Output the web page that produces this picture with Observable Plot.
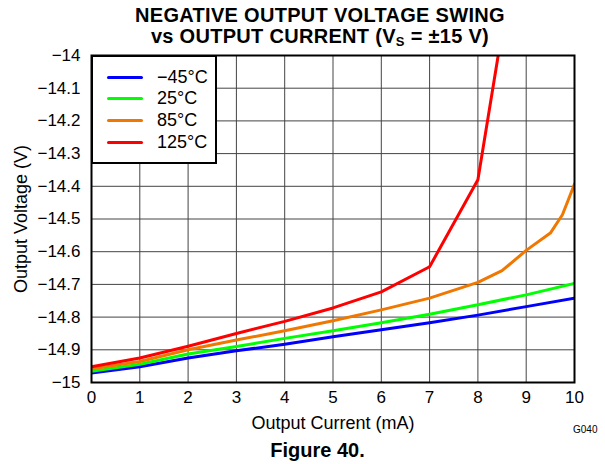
<!DOCTYPE html>
<html>
<head>
<meta charset="utf-8">
<script src="https://cdn.jsdelivr.net/npm/d3@7"></script>
<script src="https://cdn.jsdelivr.net/npm/@observablehq/plot@0.6"></script>
<style>
  html, body { margin: 0; padding: 0; background: #fff; }
  #wrap { position: relative; width: 605px; height: 464px; overflow: hidden; font-family: "Liberation Sans", Arial, sans-serif; color: #000; }
  #title { position: absolute; left: 0; top: 5px; width: 640px; text-align: center; font-weight: bold; font-size: 20px; line-height: 21px; letter-spacing: 0.3px; }
  #title sub { font-size: 13px; vertical-align: -3px; line-height: 0; }
  #chart { position: absolute; left: 0; top: 0; }
  #legend { position: absolute; left: 91px; top: 55px; border: 2px solid #000; background: #fff; box-sizing: border-box; width: 126px; height: 109px; font-size: 18px; }
  .row { position: absolute; left: 0; height: 20px; }
  .row .sw { position: absolute; left: 14px; top: 9px; width: 36px; height: 3px; border-radius: 2px; }
  .row .lb { position: absolute; left: 64px; top: 0; white-space: nowrap; line-height: 20px; }
  #fig { position: absolute; left: 0; width: 635px; top: 439px; line-height: 23px; text-align: center; font-weight: bold; font-size: 20px; }
  #code { position: absolute; left: 573px; top: 424px; font-size: 10px; line-height: 12px; }
</style>
</head>
<body>
<div id="wrap">
  <div id="chart"></div>
  <div id="title">NEGATIVE OUTPUT VOLTAGE SWING<br>vs OUTPUT CURRENT (V<sub>S</sub> = ±15 V)</div>
  <div id="legend"></div>
  <div id="fig">Figure 40.</div>
  <div id="code">G040</div>
</div>
<script>
// ---- data ----
const seriesNames = ["\u221245°C", "25°C", "85°C", "125°C"];
const seriesColors = ["#0000ff", "#00ff00", "#f07800", "#ff0000"];

const currentStd = [0, 1, 2, 3, 4, 5, 6, 7, 8, 9, 10];
const voltMinus45 = [-14.971, -14.952, -14.925, -14.903, -14.883, -14.860, -14.839, -14.817, -14.794, -14.768, -14.742];
const volt25 = [-14.966, -14.944, -14.913, -14.890, -14.865, -14.842, -14.817, -14.791, -14.762, -14.732, -14.697];

const current85 = [0, 1, 2, 3, 4, 5, 6, 7, 8, 8.5, 9, 9.5, 9.75, 10];
const volt85 = [-14.959, -14.936, -14.900, -14.870, -14.842, -14.811, -14.778, -14.742, -14.694, -14.658, -14.596, -14.543, -14.487, -14.393];

const current125 = [0, 1, 2, 3, 4, 5, 6, 7, 8, 8.42];
const volt125 = [-14.952, -14.925, -14.889, -14.850, -14.813, -14.772, -14.723, -14.646, -14.380, -14.0];

const xTicks = [0, 1, 2, 3, 4, 5, 6, 7, 8, 9, 10];
const yTicks = [-15, -14.9, -14.8, -14.7, -14.6, -14.5, -14.4, -14.3, -14.2, -14.1, -14];

// ---- build table ----
const seriesDefs = [
  [seriesNames[0], currentStd, voltMinus45],
  [seriesNames[1], currentStd, volt25],
  [seriesNames[2], current85, volt85],
  [seriesNames[3], current125, volt125]
];
const rows = seriesDefs.flatMap(([name, xs, ys]) => xs.map((x, i) => ({series: name, x, y: ys[i]})));

const fmtY = d => String(Math.round(d * 10) / 10).replace("-", "\u2212");

const plot = Plot.plot({
  width: 605,
  height: 440,
  marginTop: 55,
  marginBottom: 58,
  marginLeft: 91,
  marginRight: 31,
  style: {fontFamily: '"Liberation Sans", Arial, sans-serif', fontSize: "17px", color: "#000", background: "transparent"},
  x: {domain: [0, 10], ticks: xTicks, tickSize: 0, tickPadding: 8, label: null},
  y: {domain: [-15, -14], ticks: yTicks, tickSize: 0, tickPadding: 11, tickFormat: fmtY, label: null},
  color: {domain: seriesNames, range: seriesColors},
  marks: [
    Plot.gridX(xTicks, {stroke: "#444", strokeOpacity: 1, strokeWidth: 1}),
    Plot.gridY(yTicks, {stroke: "#444", strokeOpacity: 1, strokeWidth: 1}),
    Plot.axisX({ticks: xTicks, tickSize: 0, tickPadding: 8}),
    Plot.axisY({ticks: yTicks, tickSize: 0, tickPadding: 11, tickFormat: fmtY}),
    Plot.axisX({ticks: [], label: "Output Current (mA)", labelAnchor: "center", labelOffset: 46, labelArrow: "none", fontSize: 18}),
    Plot.axisY({ticks: [], label: "Output Voltage (V)", labelAnchor: "center", labelOffset: 77, labelArrow: "none", fontSize: 18}),
    Plot.line(rows, {x: "x", y: "y", z: "series", stroke: "series", strokeWidth: 3, clip: true}),
    Plot.frame({stroke: "#000", strokeWidth: 2})
  ]
});
document.getElementById("chart").appendChild(plot);

// ---- legend ----
const legend = document.getElementById("legend");
const rowTops = [10, 31, 53, 75];
seriesNames.forEach((name, i) => {
  const r = document.createElement("div");
  r.className = "row";
  r.style.top = rowTops[i] + "px";
  r.innerHTML = `<div class="sw" style="background:${seriesColors[i]}"></div><div class="lb">${name}</div>`;
  legend.appendChild(r);
});
</script>
</body>
</html>
